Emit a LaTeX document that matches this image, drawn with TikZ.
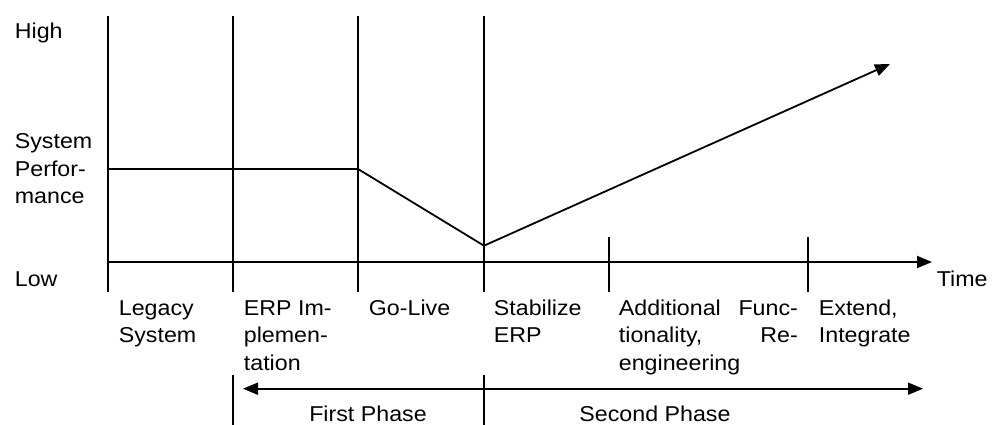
\documentclass[tikz,border=0pt]{standalone}
\usepackage{fontspec}
\setmainfont{Liberation Sans}[FakeStretch=1.08]
\usetikzlibrary{arrows.meta}

% stacked label lines whose baseline is that of the first line
\newcommand\labellines[1]{\begin{tabular}[t]{@{}l@{}}#1\end{tabular}}
\newcommand\justlines[2]{\begin{tabular}[t]{@{}p{#1}@{}}#2\end{tabular}}

\begin{document}
\begin{tikzpicture}[x=1pt,y=-1pt,
  line width=1.8pt,
  lbl/.style={inner sep=0pt, anchor=base west,
              font=\fontsize{21.5}{27.5}\selectfont},
  phaselbl/.style={inner sep=0pt, anchor=base,
              font=\fontsize{21.5}{27.5}\selectfont},
  tip/.style={-{Triangle[length=15pt,width=12pt]}},
  bothtips/.style={{Triangle[length=15pt,width=12pt]}-{Triangle[length=15pt,width=12pt]}}]

\useasboundingbox (0,0) rectangle (997,425);

% vertical separators between the stages
\foreach \n/\x in {1/108,2/233,3/358,4/484} {
  \coordinate (v\n t) at (\x,16);
  \coordinate (v\n b) at (\x,292);
  \draw (v\n t) -- (v\n b);
}

% short ticks for the later stages
\foreach \n/\x in {5/608.7,6/808} {
  \coordinate (v\n t) at (\x,237);
  \coordinate (v\n b) at (\x,292);
  \draw (v\n t) -- (v\n b);
}

% time axis
\coordinate (ax0) at (108,262);
\coordinate (ax1) at (932,262);
\draw[tip] (ax0) -- (ax1);

% system performance curve
\coordinate (p0) at (108,169);
\coordinate (p1) at (358,169);
\coordinate (p2) at (484,245.7);
\coordinate (p3) at (890,64);
\draw[tip, line join=round] (p0) -- (p1) -- (p2) -- (p3);

% phase markers and span arrow
\coordinate (f1t) at (233,375);
\coordinate (f1b) at (233,425);
\coordinate (f2t) at (484,375);
\coordinate (f2b) at (484,425);
\draw (f1t) -- (f1b);
\draw (f2t) -- (f2b);
\coordinate (ph0) at (243,388.7);
\coordinate (ph1) at (923,388.7);
\draw[bothtips] (ph0) -- (ph1);

% axis labels
\node[lbl] (high) at (14,39) {High};
\node[lbl] (perf) at (14,149) {\labellines{System\\Perfor-\\mance}};
\node[lbl] (low) at (14,287) {Low};
\node[lbl] (time) at (936,287) {Time};

% stage labels
\node[lbl] (legacy) at (118,315.5) {\labellines{Legacy\\System}};
\node[lbl] (impl) at (243,315.5) {\labellines{ERP Im-\\plemen-\\tation}};
\node[lbl] (golive) at (368,315.5) {Go-Live};
\node[lbl] (stab) at (493,315.5) {\labellines{Stabilize\\ERP}};
\node[lbl] (addfn) at (618,315.5)
  {\justlines{179pt}{Additional\hfill Func-\\tionality,\hfill Re-\\engineering}};
\node[lbl] (ext) at (818,315.5) {\labellines{Extend,\\Integrate}};

% phase labels
\node[phaselbl] (first) at (368,421) {First Phase};
\node[phaselbl] (second) at (655,421) {Second Phase};

\end{tikzpicture}
\end{document}
